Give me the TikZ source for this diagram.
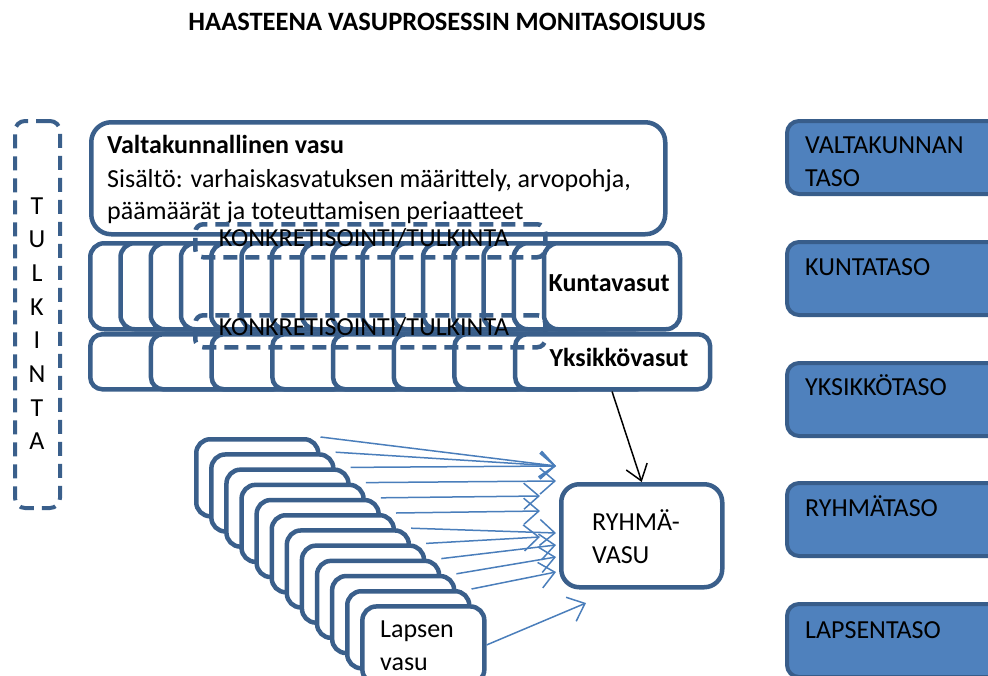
\documentclass[tikz,border=0pt]{standalone}
\usepackage{fontspec}
\setmainfont{Carlito}
\usetikzlibrary{arrows.meta,calc}
\definecolor{bordc}{HTML}{3A5F8B}
\definecolor{bluefill}{HTML}{4F81BD}
\definecolor{bluedark}{HTML}{385D8A}
\definecolor{arrowblue}{HTML}{4A7EBB}
\begin{document}
\begin{tikzpicture}[x=1pt,y=-1pt,
  box/.style={draw=bordc, line width=4.5pt, fill=white, rounded corners=14pt, rectangle, inner sep=0pt, anchor=north west},
  dbox/.style={draw=bordc, line width=4.5pt, dash pattern=on 14pt off 8pt, rounded corners=8pt, rectangle, inner sep=0pt, anchor=north west},
  lvl/.style={draw=bluedark, line width=4pt, fill=bluefill, rounded corners=12pt, rectangle, inner sep=0pt, anchor=north west, minimum width=240pt, minimum height=73pt},
  lbl/.style={font=\fontsize{26}{32}\selectfont, inner sep=0pt},
  blbl/.style={font=\fontsize{26}{32}\selectfont\bfseries, inner sep=0pt},
  barrow/.style={draw=arrowblue, line width=1.5pt, -{Straight Barb[length=15pt,width=26pt,line width=1.5pt]}},
  karrow/.style={draw=black, line width=1.5pt, -{Straight Barb[length=15pt,width=22pt,line width=1.5pt]}},
]
\useasboundingbox (0,0) rectangle (988,675);
\clip (0,0) rectangle (988,675);

% title
\node[font=\fontsize{26.5}{30}\selectfont\bfseries, inner sep=0pt] (title) at (447,22) {HAASTEENA VASUPROSESSIN MONITASOISUUS};

% TULKINTA
\node[dbox, line width=4pt, rounded corners=10pt, minimum width=45pt, minimum height=387pt] (tulkbox) at (13,119) {};
\foreach \l [count=\i from 0] in {T,U,L,K,I,N,T,A} {
  \node[lbl, anchor=base] (tl\i) at (37,{214+33.7*\i}) {\l};
}

% national level
\node[box, rounded corners=20pt, minimum width=574pt, minimum height=112pt] (valta) at (89,120) {};
\node[blbl, anchor=base west] (valta1) at (107,153) {Valtakunnallinen vasu};
\node[lbl, anchor=base west] (valta2) at (107,187) {Sisältö: varhaiskasvatuksen määrittely, arvopohja,};
\node[lbl, anchor=base west] (valta3) at (107,219) {päämäärät ja toteuttamisen periaatteet};

% municipal level
\foreach \k in {0,...,15} {
  \node[box, minimum width=136pt, minimum height=86pt] (ku\k) at ({88+30.25*\k},241) {};
}
\node[blbl, anchor=base] (kulbl) at (609,291) {Kuntavasut};

% unit level
\foreach \k in {0,...,7} {
  \node[box, rounded corners=12pt, minimum width=195pt, minimum height=55pt] (yk\k) at ({88+60.7*\k},332) {};
}
\node[blbl, anchor=base] (yklbl) at (619,366) {Yksikkövasut};

% dashed interpretation boxes
\node[dbox, minimum width=350pt, minimum height=33pt] (konk1) at (193,222) {};
\node[lbl, anchor=base] (konk1t) at (364,246) {KONKRETISOINTI/TULKINTA};
\node[dbox, minimum width=350pt, minimum height=32pt] (konk2) at (193,313) {};
\node[lbl, anchor=base] (konk2t) at (364,335) {KONKRETISOINTI/TULKINTA};

% group vasu
\node[box, rounded corners=18pt, minimum width=161pt, minimum height=103pt] (ryhma) at (559,482) {};
\node[lbl, anchor=base west] (ry1) at (592,530) {RYHMÄ-};
\node[lbl, anchor=base west] (ry2) at (592,563) {VASU};
\draw[karrow] ($(yk7.south west)!0.497!(yk7.south east)$) -- (ryhma.north);

% child vasus
\foreach \k in {0,...,11} {
  \node[box, minimum width=122pt, minimum height=77pt] (la\k) at ({194+15.1*\k},{437+15.2*\k}) {};
}
\node[lbl, anchor=base west] (la1t) at (380,637) {Lapsen};
\node[lbl, anchor=base west] (la2t) at (380,670) {vasu};

\foreach \k/\ex/\ey in {0/556/466,1/556/466,2/556/466,3/556/481,4/540/496,5/540/511,6/556/533,7/540/537,8/556/545,9/556/557,10/556/572} {
  \coordinate (e\k) at (\ex,\ey);
  \draw[barrow] (la\k.north east) -- (e\k);
}
\coordinate (e11) at (586,603);
\draw[barrow] (la11.east) -- (e11);

% levels column
\node[lvl] (lv1) at (785,119) {};
\node[lbl, anchor=base west] (lv1a) at (805,153) {VALTAKUNNAN};
\node[lbl, anchor=base west] (lv1b) at (805,186) {TASO};
\node[lvl] (lv2) at (785,240) {};
\node[lbl, anchor=base west] (lv2a) at (805,275) {KUNTATASO};
\node[lvl] (lv3) at (785,361) {};
\node[lbl, anchor=base west] (lv3a) at (805,395) {YKSIKKÖTASO};
\node[lvl] (lv4) at (785,481) {};
\node[lbl, anchor=base west] (lv4a) at (805,516) {RYHMÄTASO};
\node[lvl] (lv5) at (785,602) {};
\node[lbl, anchor=base west] (lv5a) at (805,638) {LAPSENTASO};
\end{tikzpicture}
\end{document}
